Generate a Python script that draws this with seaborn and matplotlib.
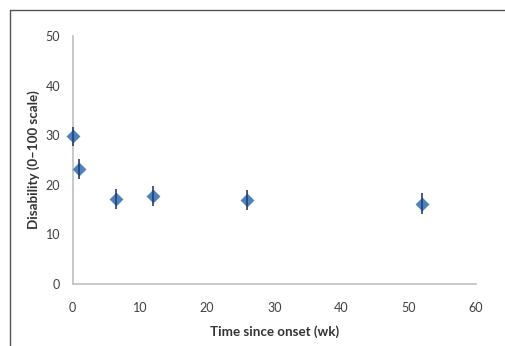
import numpy as np
import pandas as pd
import matplotlib
matplotlib.use('Agg')
import matplotlib.pyplot as plt
import seaborn as sns
from matplotlib.lines import Line2D

# data
weeks = [0, 1, 6.5, 12, 26, 52]
disability = [29.8, 23.2, 17.1, 17.7, 16.9, 16.2]
err = [1.9, 2.0, 2.0, 2.0, 2.0, 2.1]
x_ticks = [0, 10, 20, 30, 40, 50, 60]
y_ticks = [0, 10, 20, 30, 40, 50]

df = pd.DataFrame({'wk': weeks, 'dis': disability, 'err': err})

sns.set_style('white')
plt.rcParams['font.family'] = ['Lato', 'DejaVu Sans']

fig = plt.figure(figsize=(5.05, 3.46), dpi=100)
ax = fig.add_axes([0.1436, 0.179, 0.7990, 0.717])

sns.scatterplot(data=df, x='wk', y='dis', marker='D', s=50, color='#4f81bd',
                edgecolor='#4f81bd', linewidth=0, ax=ax, zorder=3, clip_on=False)
eb = ax.errorbar(df['wk'], df['dis'], yerr=df['err'], fmt='none',
                 ecolor='#22406e', elinewidth=1.2, capsize=0, zorder=4)
for art in eb.lines[2]:
    art.set_clip_on(False)

ax.set_xlim(0, 60)
ax.set_ylim(0, 50)
ax.set_xticks(x_ticks)
ax.set_yticks(y_ticks)
ax.tick_params(axis='both', length=0, labelsize=9, labelcolor='#404040')
ax.tick_params(axis='x', pad=13)
ax.tick_params(axis='y', pad=9)
ax.set_xlabel('Time since onset (wk)', fontsize=9.6, fontweight='bold',
              color='#333333', labelpad=8)
ax.set_ylabel('Disability (0\u2013100 scale)', fontsize=9.6, fontweight='bold',
              color='#333333', labelpad=4)

for side in ['top', 'right']:
    ax.spines[side].set_visible(False)
for side in ['left', 'bottom']:
    ax.spines[side].set_color('#bfbfbf')
    ax.spines[side].set_linewidth(1.2)

# outer frame (top and left edges of the image border)
fig.add_artist(Line2D([10 / 505, 1], [1 - 10 / 346, 1 - 10 / 346],
                      transform=fig.transFigure, color='#555555', lw=1))
fig.add_artist(Line2D([10 / 505, 10 / 505], [0, 1 - 10 / 346],
                      transform=fig.transFigure, color='#555555', lw=1))

fig.savefig('out.png', dpi=100)
